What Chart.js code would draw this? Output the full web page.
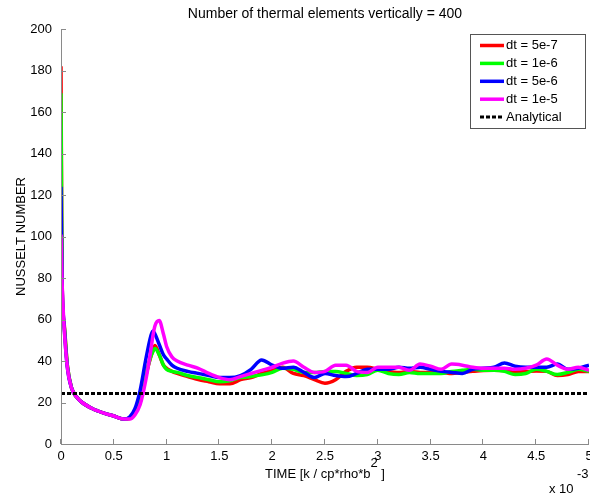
<!DOCTYPE html>
<html>
<head>
<meta charset="utf-8">
<script src="https://cdn.jsdelivr.net/npm/chart.js@4"></script>
<style>
  html, body { margin: 0; padding: 0; background: #fff; }
  #wrap { width: 590px; height: 497px; }
</style>
</head>
<body>
<div id="wrap"><canvas id="nusselt"></canvas></div>
<script>
// time axis in units of 1e-3
const timeVals = [0, 0.01, 0.03, 0.06, 0.1, 0.15, 0.2, 0.3, 0.4, 0.5, 0.6, 0.65, 0.7, 0.75, 0.8, 0.85, 0.87, 0.89, 0.93, 0.97,
  1.0, 1.05, 1.1, 1.2, 1.3, 1.4, 1.5, 1.6, 1.7, 1.8, 1.9, 2.0, 2.1, 2.2, 2.3, 2.4, 2.5, 2.6, 2.7, 2.8, 2.9,
  3.0, 3.1, 3.2, 3.3, 3.4, 3.5, 3.6, 3.7, 3.8, 3.9, 4.0, 4.1, 4.2, 4.3, 4.4, 4.5, 4.6, 4.7, 4.8, 4.9, 5.0];

const nuDt5e7 = [182, 80, 58, 38, 27, 22.5, 20, 17, 15, 13.5, 12, 12.3, 15, 21, 32, 42, 45, 47.5, 43, 38,
  36.5, 35, 34, 32.5, 31, 30, 29, 29, 31, 32, 34, 35.5, 37, 34, 33, 31, 29.3, 31, 35, 37, 37,
  36, 35, 34.5, 35, 34.5, 34.4, 34.5, 34, 34.5, 35, 35.4, 35.5, 35.4, 35, 35, 35.2, 35, 33, 33.5, 35, 35];

const nuDt1e6 = [169, 78, 57, 38, 27, 22.5, 20, 17, 15, 13.5, 12, 12.5, 15.5, 22, 33, 42, 44.5, 46, 43, 38,
  36, 35, 34.5, 33, 32, 31, 30, 30.5, 32, 32.5, 33.3, 34.5, 36.5, 36, 34.5, 34.5, 35, 35, 34, 33, 33.5,
  35.5, 34, 33.5, 34.5, 34, 34, 34, 35, 35.5, 36, 35.5, 35.5, 35, 33.5, 34, 36, 35, 33.5, 34.5, 36, 35];

const nuDt5e6 = [124, 79, 57, 37, 27, 22.5, 20, 17, 15, 13.5, 12, 13, 17, 26, 40, 52, 54.5, 53, 48, 43,
  41, 38, 36.5, 35, 34, 33, 32, 32, 33, 36, 40.5, 38, 36.5, 37, 34.5, 32, 34, 33, 32.5, 34, 36,
  36, 36, 37, 36.5, 37, 36, 35, 34.5, 34, 36, 36.5, 37, 39, 37.5, 37, 37, 37, 38.5, 36, 36.5, 38];

const nuDt1e5 = [101, 78, 56, 37, 27, 22.5, 20, 17, 15, 13.5, 12, 12, 14, 19, 30, 45, 52, 57, 59.5, 53,
  47, 42, 40, 38, 36.5, 34, 32, 31, 32.5, 34, 35.5, 37, 39, 40, 37, 34.5, 35, 38, 38, 35, 34.5,
  37, 37, 37, 35.5, 38.5, 37.5, 36, 38.5, 38, 37, 36.5, 36.5, 36.5, 36, 36.5, 38, 41, 38, 36, 37, 35.5];

const analyticalNu = 24.3;

const yTicks = [0, 20, 40, 60, 80, 100, 120, 140, 160, 180, 200];
const xTicks = [0, 0.5, 1, 1.5, 2, 2.5, 3, 3.5, 4, 4.5, 5];

const FONT = '"Liberation Sans", Arial, Helvetica, sans-serif';
const FS = 13;
const AXIS_GRAY = '#8a8a8a';

function toPoints(vals) {
  return vals.map((v, i) => ({ x: timeVals[i], y: v }));
}

// inward ticks, axis lines, labels and legend drawn like the matlab figure
const decorPlugin = {
  id: 'decor',
  afterDraw(chart) {
    const { ctx, chartArea: ca, scales: { x, y } } = chart;
    ctx.save();
    ctx.strokeStyle = AXIS_GRAY;
    ctx.lineWidth = 1;
    ctx.beginPath();
    ctx.moveTo(ca.left + 0.5, ca.top);
    ctx.lineTo(ca.left + 0.5, ca.bottom + 0.5);
    ctx.lineTo(ca.right, ca.bottom + 0.5);
    yTicks.forEach(v => {
      const py = Math.round(y.getPixelForValue(v)) + 0.5;
      ctx.moveTo(ca.left, py);
      ctx.lineTo(ca.left + 5, py);
    });
    xTicks.forEach(v => {
      const px = Math.round(x.getPixelForValue(v)) - 0.5;
      ctx.moveTo(px, ca.bottom);
      ctx.lineTo(px, ca.bottom - 5);
    });
    ctx.stroke();

    ctx.fillStyle = '#000';
    ctx.font = FS + 'px ' + FONT;
    ctx.textBaseline = 'middle';

    // tick labels
    ctx.textAlign = 'right';
    yTicks.forEach(v => ctx.fillText(String(v), ca.left - 9, y.getPixelForValue(v)));
    ctx.textAlign = 'center';
    xTicks.forEach(v => ctx.fillText(String(v), x.getPixelForValue(v), ca.bottom + 12));

    const cx = (ca.left + ca.right) / 2;
    ctx.font = '14px ' + FONT;
    ctx.fillText('Number of thermal elements vertically = 400', cx, 14);
    ctx.font = FS + 'px ' + FONT;

    // x label with superscript
    const main = 'TIME [k / cp*rho*b';
    const tail = ' ]';
    const wMain = ctx.measureText(main).width;
    const wTail = ctx.measureText(tail).width;
    const wSup = ctx.measureText('2').width;
    const startX = cx - (wMain + wSup + wTail) / 2;
    ctx.textAlign = 'left';
    ctx.fillText(main, startX, 474);
    ctx.fillText(tail, startX + wMain + wSup, 474);
    ctx.fillText('2', startX + wMain, 463);

    ctx.fillText('x 10', 549, 489);
    ctx.fillText('-3', 577, 474);

    // y label
    ctx.save();
    ctx.translate(21, (ca.top + ca.bottom) / 2);
    ctx.rotate(-Math.PI / 2);
    ctx.textAlign = 'center';
    ctx.fillText('NUSSELT NUMBER', 0, 0);
    ctx.restore();

    // legend
    const box = { x: 470.5, y: 34.5, w: 115, h: 94 };
    ctx.fillStyle = '#fff';
    ctx.fillRect(box.x, box.y, box.w, box.h);
    ctx.strokeStyle = '#555';
    ctx.strokeRect(box.x, box.y, box.w, box.h);
    chart.data.datasets.forEach((ds, i) => {
      const ly = 45.5 + i * 17.9;
      ctx.beginPath();
      ctx.strokeStyle = ds.borderColor;
      ctx.lineWidth = ds.borderWidth;
      ctx.setLineDash(ds.borderDash || []);
      ctx.moveTo(480, ly);
      ctx.lineTo(504, ly);
      ctx.stroke();
      ctx.setLineDash([]);
      ctx.fillStyle = '#000';
      ctx.textAlign = 'left';
      ctx.fillText(ds.label, 506, ly);
    });
    ctx.restore();
  }
};

new Chart(document.getElementById('nusselt'), {
  type: 'line',
  data: {
    datasets: [
      { label: 'dt = 5e-7', data: toPoints(nuDt5e7), borderColor: '#ff0000', borderWidth: 3.5, order: 4 },
      { label: 'dt = 1e-6', data: toPoints(nuDt1e6), borderColor: '#00ff00', borderWidth: 3.5, order: 3 },
      { label: 'dt = 5e-6', data: toPoints(nuDt5e6), borderColor: '#0000ff', borderWidth: 3.5, order: 2 },
      { label: 'dt = 1e-5', data: toPoints(nuDt1e5), borderColor: '#ff00ff', borderWidth: 3.5, order: 1 },
      { label: 'Analytical', data: [{ x: 0, y: analyticalNu }, { x: 5, y: analyticalNu }],
        borderColor: '#000000', borderWidth: 3, borderDash: [4, 2], order: 0 }
    ]
  },
  options: {
    responsive: true,
    maintainAspectRatio: false,
    animation: false,
    events: [],
    elements: { point: { radius: 0 }, line: { cubicInterpolationMode: 'monotone', fill: false } },
    layout: { padding: { top: 29, right: 1, left: 0, bottom: 0 }, autoPadding: false },
    plugins: { legend: { display: false }, tooltip: { enabled: false }, title: { display: false } },
    scales: {
      x: {
        type: 'linear', min: 0, max: 5,
        afterBuildTicks: s => { s.ticks = xTicks.map(v => ({ value: v })); },
        afterFit: s => { s.height = 53; s.paddingLeft = 0; s.paddingRight = 0; },
        grid: { display: false, drawTicks: false },
        border: { display: false },
        ticks: { display: false }
      },
      y: {
        type: 'linear', min: 0, max: 200,
        afterBuildTicks: s => { s.ticks = yTicks.map(v => ({ value: v })); },
        afterFit: s => { s.width = 61; s.paddingTop = 0; s.paddingBottom = 0; },
        grid: { display: false, drawTicks: false },
        border: { display: false },
        ticks: { display: false }
      }
    }
  },
  plugins: [decorPlugin]
});
</script>
</body>
</html>
